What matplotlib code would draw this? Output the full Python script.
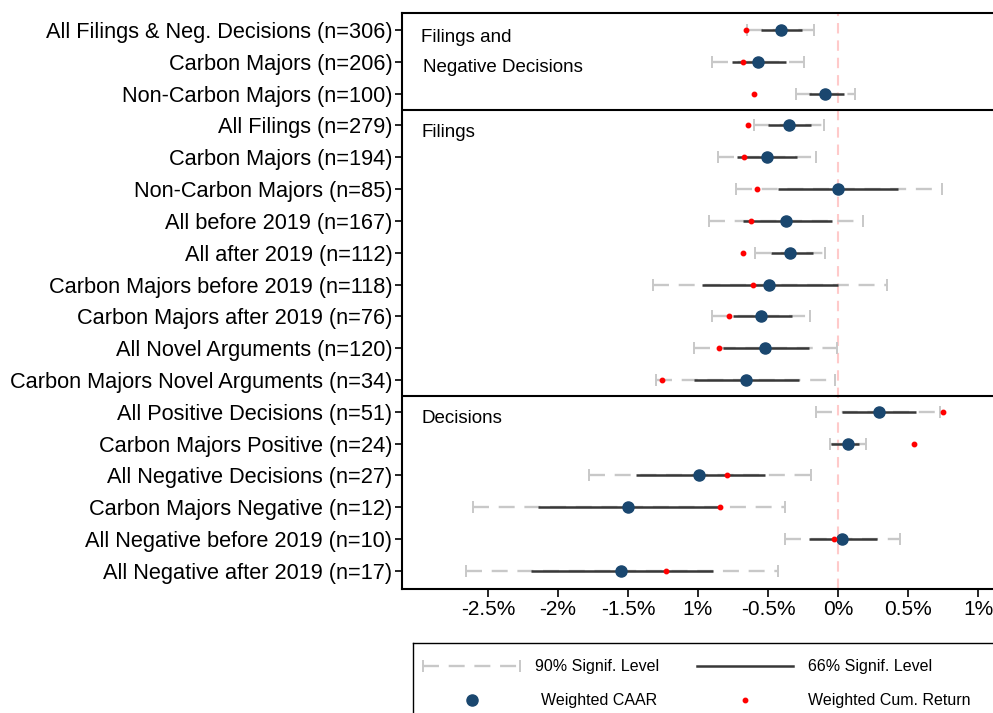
import numpy as np
import matplotlib
matplotlib.use('Agg')
from matplotlib import pyplot as plt
from matplotlib import transforms

plt.rcParams['font.family'] = ['Liberation Sans', 'DejaVu Sans']
plt.rcParams['lines.scale_dashes'] = False

# event study rows, top to bottom
labels = [
    "All Filings & Neg. Decisions (n=306)",
    "Carbon Majors (n=206)",
    "Non-Carbon Majors (n=100)",
    "All Filings (n=279)",
    "Carbon Majors (n=194)",
    "Non-Carbon Majors (n=85)",
    "All before 2019 (n=167)",
    "All after 2019 (n=112)",
    "Carbon Majors before 2019 (n=118)",
    "Carbon Majors after 2019 (n=76)",
    "All Novel Arguments (n=120)",
    "Carbon Majors Novel Arguments (n=34)",
    "All Positive Decisions (n=51)",
    "Carbon Majors Positive (n=24)",
    "All Negative Decisions (n=27)",
    "Carbon Majors Negative (n=12)",
    "All Negative before 2019 (n=10)",
    "All Negative after 2019 (n=17)",
]

# values in percent
caar = [-0.41, -0.57, -0.09, -0.35, -0.51, 0.00, -0.37, -0.34, -0.49, -0.55,
        -0.52, -0.66, 0.29, 0.07, -0.99, -1.50, 0.03, -1.55]
cum_ret = [-0.66, -0.68, -0.60, -0.64, -0.67, -0.58, -0.62, -0.68, -0.61, -0.78,
           -0.85, -1.26, 0.75, 0.54, -0.79, -0.84, -0.03, -1.23]
ci66_lo = [-0.55, -0.76, -0.21, -0.50, -0.72, -0.43, -0.68, -0.48, -0.97, -0.75,
           -0.82, -1.03, 0.03, -0.05, -1.44, -2.14, -0.21, -2.19]
ci66_hi = [-0.26, -0.37, 0.04, -0.19, -0.29, 0.43, -0.04, -0.18, 0.00, -0.33,
           -0.21, -0.28, 0.56, 0.15, -0.52, -0.84, 0.28, -0.89]
ci90_lo = [-0.65, -0.90, -0.30, -0.60, -0.86, -0.73, -0.92, -0.59, -1.32, -0.90,
           -1.03, -1.30, -0.16, -0.06, -1.78, -2.61, -0.38, -2.66]
ci90_hi = [-0.17, -0.24, 0.12, -0.10, -0.16, 0.74, 0.18, -0.09, 0.35, -0.20,
           -0.01, -0.02, 0.73, 0.20, -0.19, -0.38, 0.44, -0.43]

sections = ["Filings and", "Filings", "Decisions"]
section_start = [0, 3, 12]

xticks = [-2.5, -2, -1.5, -1, -0.5, 0, 0.5, 1]
xticklabels = ["-2.5%", "-2%", "-1.5%", "1%", "-0.5%", "0%", "0.5%", "1%"]

navy = '#1a476f'
light = '#c8c8c8'
dark = '#383838'

W, H = 993, 713
fig = plt.figure(figsize=(W / 100, H / 100), dpi=100)
ax = fig.add_axes([402 / W, (H - 589) / H, (1000 - 402) / W, (589 - 13) / H])

y = np.arange(len(labels))

ax.axvline(0, color='#ffcaca', lw=1.5, dashes=(7.5, 5), zorder=0)

for i in range(len(labels)):
    ax.plot([ci90_lo[i], ci90_hi[i]], [y[i], y[i]], color=light, lw=1.7,
            dashes=(11.5, 7), zorder=1)
    ax.plot([ci90_lo[i], ci90_hi[i]], [y[i], y[i]], ls='none', marker='|',
            ms=8, mew=1.4, color=light, zorder=1)
    ax.plot([ci66_lo[i], ci66_hi[i]], [y[i], y[i]], color=dark, lw=1.8,
            solid_capstyle='butt', zorder=2)

ax.plot(caar, y, 'o', color=navy, ms=8, mec=navy, zorder=3)
ax.plot(cum_ret, y, 'o', color='red', ms=3.2, mec='red', zorder=4)

# section separators
for s in section_start[1:]:
    ax.axhline(s - 0.5, color='black', lw=1.5, zorder=5)

trans = transforms.blended_transform_factory(ax.transAxes, ax.transData)
ax.text(0.032, 0.25, sections[0], transform=trans, fontsize=13.5, va='center')
ax.text(0.035, 1.17, "Negative Decisions", transform=trans, fontsize=13.5, va='center')
ax.text(0.032, 3.22, sections[1], transform=trans, fontsize=13.5, va='center')
ax.text(0.032, 12.2, sections[2], transform=trans, fontsize=13.5, va='center')

ax.set_xlim(-3.114, 1.157)
ax.set_ylim(17.567, -0.534)
ax.set_yticks(y)
ax.set_yticklabels(labels, fontsize=15.7)
ax.set_xticks(xticks)
ax.set_xticklabels(xticklabels, fontsize=15)
ax.tick_params(axis='y', length=5, width=1.2, pad=2)
ax.tick_params(axis='x', length=6, width=1.2, pad=2)
for side in ['left', 'top', 'bottom']:
    ax.spines[side].set_linewidth(1.5)
ax.spines['right'].set_visible(False)

# legend box, runs off the bottom and right edge like the original
lax = fig.add_axes([413 / W, (H - 725) / H, (1005 - 413) / W, (725 - 643) / H])
lax.set_xlim(413, 1005)
lax.set_ylim(725, 643)
lax.set_xticks([])
lax.set_yticks([])
for sp in lax.spines.values():
    sp.set_linewidth(1.0)

ly1, ly2 = 666, 700
lax.plot([423, 520], [ly1, ly1], color=light, lw=1.7, dashes=(11.5, 7))
lax.plot([423, 520], [ly1, ly1], ls='none', marker='|', ms=8, mew=1.4, color=light)
lax.text(535, ly1, "90% Signif. Level", fontsize=11.5, va='center')
lax.plot([697, 793], [ly1, ly1], color=dark, lw=1.8)
lax.text(808, ly1, "66% Signif. Level", fontsize=11.5, va='center')
lax.plot([472], [ly2], 'o', color=navy, ms=8)
lax.text(541, ly2, "Weighted CAAR", fontsize=11.5, va='center')
lax.plot([745], [ly2], 'o', color='red', ms=3.2)
lax.text(808, ly2, "Weighted Cum. Return", fontsize=11.5, va='center')

fig.savefig('out.png', dpi=100)
